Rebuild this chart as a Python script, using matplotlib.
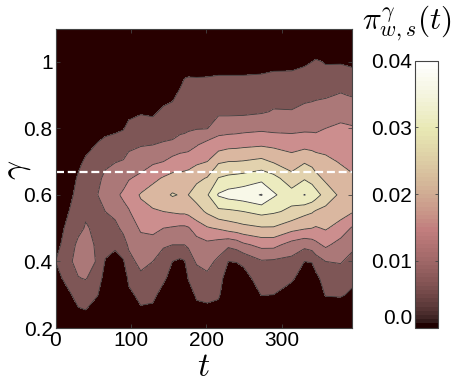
import matplotlib
matplotlib.use('Agg')
import matplotlib.pyplot as plt
import numpy as np
from matplotlib.cm import ScalarMappable
from matplotlib.colors import Normalize

plt.rcParams['font.family'] = ['Liberation Sans', 'DejaVu Sans']
plt.rcParams['mathtext.fontset'] = 'cm'

t = [0, 17, 30, 40, 56, 66, 79, 90, 97, 113, 129, 143, 155, 165, 171, 176, 187, 201,
     216, 229, 240, 249, 273, 289, 313, 330, 340, 345, 358, 378, 393]
gam = [0.2, 0.25, 0.3, 0.35, 0.4, 0.45, 0.5, 0.55, 0.6, 0.65, 0.7, 0.75, 0.8,
       0.85, 0.9, 0.95, 1.0, 1.05, 1.1]

# one row per t, values are pi x 1000, going up in gamma
columns = [
    [0, 0, 1.5, 3, 5, 3, 2, 1, 0.5, 0, 0, 0, 0, 0, 0, 0, 0, 0, 0],
    [0, 1, 4, 7, 9, 8, 6.5, 4.8, 3, 1.5, 0.5, 0, 0, 0, 0, 0, 0, 0, 0],
    [1, 4.3, 7, 9.8, 11.5, 10.8, 9, 8, 7, 5.8, 3.5, 1.5, 0, 0, 0, 0, 0, 0, 0],
    [1, 4.8, 7.2, 10.3, 12, 11.5, 10.3, 9.5, 8.5, 7.5, 6, 3, 1, 0, 0, 0, 0, 0, 0],
    [0, 2, 5.2, 7.5, 9.5, 9.3, 9.3, 9.7, 10, 9, 7.5, 5.5, 2.5, 0, 0, 0, 0, 0, 0],
    [0, 0, 1, 3, 4.7, 6.5, 8, 10, 11.5, 11, 9, 6.5, 3.5, 1, 0, 0, 0, 0, 0],
    [0, 0, 0, 1, 3, 6, 8.7, 11.3, 14, 12.5, 9.8, 7.2, 4, 1, 0, 0, 0, 0, 0],
    [0, 0, 0, 0.5, 4.6, 8, 11.2, 13.6, 15.8, 13.3, 10.3, 7.7, 4.7, 1.5, 0, 0, 0, 0, 0],
    [0, 0, 3.5, 6.4, 8.5, 10.7, 12.5, 14.6, 17, 14.7, 11.5, 9, 6.5, 3.5, 1, 0, 0, 0, 0],
    [0, 4, 6.8, 9, 11.3, 13.3, 15.6, 18.4, 20.5, 16, 13, 9.7, 7.3, 4.5, 1.5, 0, 0, 0, 0],
    [0, 3.7, 6.3, 8, 10, 13, 16.3, 19.4, 22.5, 18.7, 14.2, 10, 7.3, 4, 1.5, 0, 0, 0, 0],
    [0, 0.8, 3, 6, 8, 10.5, 15, 20, 23.5, 20.5, 15, 10.5, 8, 6, 3, 0.5, 0, 0, 0],
    [0, 0, 1, 3, 5, 10, 14.5, 20.5, 25.5, 21.5, 17, 10.8, 8.3, 6.5, 4, 1, 0, 0, 0],
    [0, 0, 0, 1, 4, 10, 14, 21, 24.7, 21.5, 17.5, 12.5, 8.5, 7, 6, 3.5, 0, 0, 0],
    [0, 0, 0, 1, 4.7, 10, 14, 21, 24.8, 21.7, 17.8, 12.7, 8.8, 7.4, 6.5, 5, 0.5, 0, 0],
    [0, 0, 2, 5.4, 8, 10.5, 14.5, 21.5, 25, 22, 18, 13, 9.3, 7.8, 7, 5.3, 2, 0, 0],
    [0, 3, 6, 8, 10.5, 12.5, 17.5, 23, 27, 24, 19, 14.7, 9.7, 8, 7, 5.2, 2, 0, 0],
    [0, 3.5, 6.5, 9, 11.5, 13.7, 19.5, 25.8, 29.5, 25.3, 20, 16.8, 9.8, 8.5, 7.3, 5.3, 2, 0, 0],
    [0, 2.5, 6, 7.5, 9, 12.5, 20.5, 28.8, 35.5, 30.2, 24.3, 17.5, 13, 9, 7.5, 5.7, 2, 0, 0],
    [0, 0, 0, 2, 5, 11, 22, 29, 37, 31.2, 25, 18.5, 13, 9, 7.5, 5.7, 2, 0, 0],
    [0, 0, 0, 2, 5.2, 12, 22.8, 29.5, 37.5, 31.6, 25.1, 18.7, 13.2, 9, 7.5, 5.7, 2, 0, 0],
    [0, 0, 1, 3, 6, 14, 23.5, 30, 38, 32, 25.3, 19, 13.5, 9, 7.5, 5.7, 2, 0, 0],
    [0, 1, 5.2, 7.5, 9.5, 16.5, 24.5, 31.5, 40.3, 33.5, 26.3, 19.5, 14, 9.5, 8, 6, 2.2, 0, 0],
    [0, 0.5, 5, 7.2, 9.2, 16.5, 24.5, 30.7, 35.7, 31.7, 24.5, 19, 13.6, 10.3, 8.5, 6.5, 3, 0, 0],
    [0, 0, 2, 6, 8.6, 13, 21.7, 29, 32, 27, 22, 18.3, 13.5, 10.2, 8.5, 6.5, 3.2, 0, 0],
    [0, 0, 0, 2, 5, 11.5, 20.5, 26.5, 35.2, 29.5, 24.5, 18.5, 14, 11, 9, 7, 4.2, 0, 0],
    [0, 0, 0, 2, 5.3, 12.5, 20, 25.5, 33.5, 28, 23.5, 18.2, 14, 11.2, 9.2, 7.3, 5, 0, 0],
    [0, 0, 0, 3.5, 7.5, 13.7, 19.5, 24.5, 32, 26.5, 22.5, 18, 13.9, 11.5, 9.3, 7.5, 5.9, 0, 0],
    [0, 0, 5.5, 7.5, 10, 16, 20.5, 23.5, 28, 24, 21.5, 17.8, 15, 12, 9.5, 7.5, 4.5, 0, 0],
    [0, 1, 5.7, 8, 10.3, 13, 18, 22, 24, 22.5, 19.5, 18, 16, 13, 10.3, 8, 4.5, 0, 0],
    [0, 0, 4, 6.5, 8.7, 11, 14.5, 20.5, 22.5, 20.5, 19, 17, 15.5, 12.5, 9.7, 7, 4, 0, 0],
]

Z = np.array(columns).T / 1000.0
levels = [0.005, 0.01, 0.015, 0.02, 0.025, 0.03, 0.035, 0.04]
band_colors = ['#280000', '#7e5656', '#ab7878', '#cc8e8e', '#dab7a0', '#e2d2ae',
               '#ecebbf', '#f8f8e8', '#ffffff']

fig = plt.figure(figsize=(4.63, 3.82), dpi=100)
ax = fig.add_axes([55.5 / 463, 54 / 382, 296.5 / 463, 299.5 / 382])

ax.contourf(t, gam, Z, levels=[-1] + levels + [1], colors=band_colors)
ax.contour(t, gam, Z, levels=levels, colors='#3c3c3c', linewidths=0.6)
ax.axhline(0.67, color='white', lw=1.6, dashes=(3.6, 1.7))

ax.set_xlim(0, 393)
ax.set_ylim(0.2, 1.1)
ax.set_xticks([0, 100, 200, 300])
ax.set_yticks([0.2, 0.4, 0.6, 0.8, 1.0])
ax.set_yticklabels(['0.2', '0.4', '0.6', '0.8', '1'])
ax.tick_params(direction='in', length=3, width=0.6, color='#444444', labelsize=15,
               pad=2, top=True, right=True)
for s in ax.spines.values():
    s.set_linewidth(0.8)
    s.set_color('#444444')
ax.set_xlabel('$t$', fontsize=24, labelpad=1.5)
ax.set_ylabel('$\\gamma$', fontsize=24)
ax.yaxis.set_label_coords(-0.075, 0.527)

cax = fig.add_axes([415 / 463, 54.5 / 382, 23 / 463, 267 / 382])
cb = fig.colorbar(ScalarMappable(Normalize(0, 0.04), plt.get_cmap('pink', 64)), cax=cax)
cb.set_ticks([0, 0.01, 0.02, 0.03, 0.04])
cb.set_ticklabels(['0.0', '0.01', '0.02', '0.03', '0.04'])
cax.yaxis.set_ticks_position('both')
cax.tick_params(direction='in', length=2, width=0.6, color='#444444', labelsize=15,
                labelleft=True, labelright=False, pad=2)
cax.get_yticklabels()[0].set_verticalalignment('bottom')
cb.outline.set_linewidth(0.8)
cb.outline.set_edgecolor('#444444')

fig.text(407 / 463, 1 - 23 / 382, '$\\pi^{\\gamma}_{w,s}(t)$', fontsize=22.5, ha='center', va='center')

fig.savefig('out.png', dpi=100)
